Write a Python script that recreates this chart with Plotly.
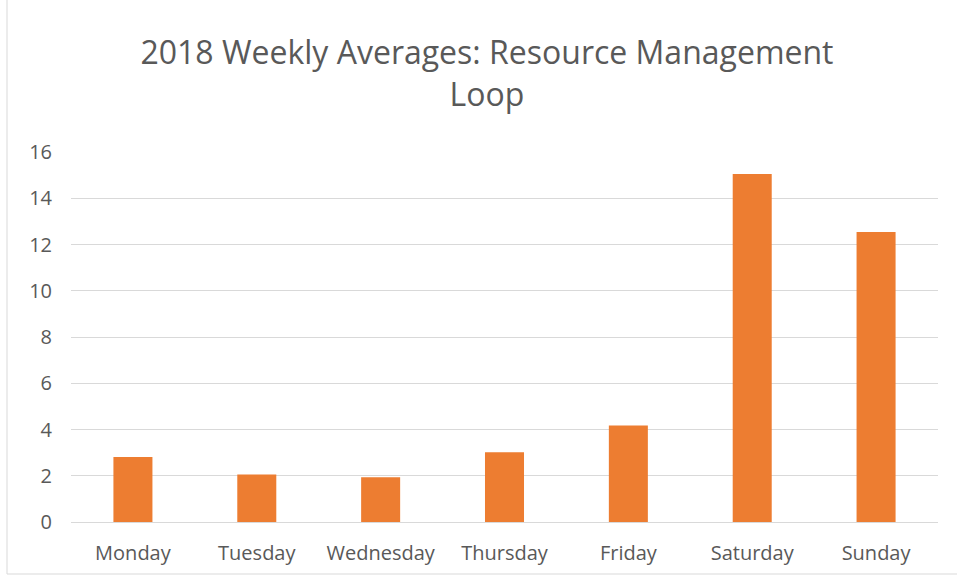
import plotly.graph_objects as go

days = ["Monday", "Tuesday", "Wednesday", "Thursday", "Friday", "Saturday", "Sunday"]
averages = [2.81, 2.05, 1.93, 3.02, 4.17, 15.05, 12.54]
y_ticks = [0, 2, 4, 6, 8, 10, 12, 14, 16]

W, H = 957, 582
ml, mr, mt, mb = 71, 19, 152, 60
pw = W - ml - mr
ph = H - mt - mb

def px_x(x):
    return (x - ml) / pw

def px_y(y):
    return (H - mb - y) / ph

fig = go.Figure(go.Bar(x=days, y=averages, marker=dict(color="#ED7D31", line=dict(width=0)), width=0.315))

fig.update_layout(
    width=W, height=H,
    margin=dict(l=ml, r=mr, t=mt, b=mb),
    paper_bgcolor="white", plot_bgcolor="white",
    font=dict(family="Open Sans", color="#595959"),
    showlegend=False,
    title=dict(text="2018 Weekly Averages: Resource Management<br>Loop",
               x=px_x(487), xref="paper", xanchor="center",
               y=1 - 64 / H, yref="container", yanchor="top",
               font=dict(size=32, color="#595959", family="Open Sans")),
    xaxis=dict(showgrid=False, showline=False, ticks="", tickfont=dict(size=20, color="#595959"),
               ticklabelstandoff=17, fixedrange=True),
    yaxis=dict(range=[0, 16], tickvals=y_ticks, showgrid=True, gridcolor="#D9D9D9", gridwidth=1,
               zeroline=True, zerolinecolor="#D9D9D9", zerolinewidth=1,
               ticks="", tickfont=dict(size=20, color="#595959"), ticklabelstandoff=18,
               fixedrange=True),
)

# chart border (top and left edges visible)
fig.add_shape(type="line", xref="paper", yref="paper", x0=px_x(7), x1=px_x(957), y0=px_y(H - 8), y1=px_y(H - 8),
              line=dict(color="#D9D9D9", width=1))
fig.add_shape(type="line", xref="paper", yref="paper", x0=px_x(7), x1=px_x(7), y0=px_y(H - 8), y1=px_y(0),
              line=dict(color="#D9D9D9", width=1))

fig.write_html("out.html", config={"displayModeBar": False},
               post_script="document.body.style.margin='0';document.body.style.overflow='hidden';")
